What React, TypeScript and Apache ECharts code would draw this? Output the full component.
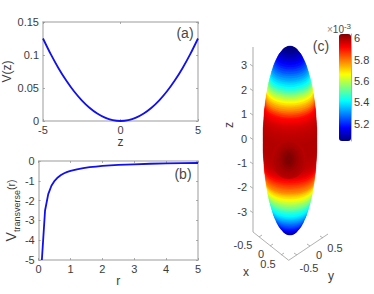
import React, { useEffect, useRef } from "react";
import * as echarts from "echarts";

const zPotential = [-5, -4.5, -4, -3.5, -3, -2.5, -2, -1.5, -1, -0.5, 0, 0.5, 1, 1.5, 2, 2.5, 3, 3.5, 4, 4.5, 5];
const vPotential = [0.125, 0.10125, 0.08, 0.06125, 0.045, 0.03125, 0.02, 0.01125, 0.005, 0.00125, 0, 0.00125, 0.005, 0.01125, 0.02, 0.03125, 0.045, 0.06125, 0.08, 0.10125, 0.125];
const rTransverse = [0.1, 0.2, 0.3, 0.4, 0.5, 0.6, 0.7, 0.8, 0.9, 1, 1.2, 1.4, 1.6, 1.8, 2, 2.5, 3, 3.5, 4, 4.5, 5];
const vTransverse = [-5, -2.5, -1.67, -1.25, -1, -0.83, -0.71, -0.62, -0.55, -0.5, -0.42, -0.36, -0.31, -0.28, -0.25, -0.2, -0.17, -0.14, -0.125, -0.11, -0.1];

const ringZ = [-3.876, -3.84, -3.8, -3.76, -3.68, -3.61, -3.53, -3.45, -3.38, -3.3, -3.22, -3.15, -3.07, -2.99, -2.92, -2.84, -2.76, -2.69, -2.61, -2.53, -2.46, -2.38, -2.3, -2.23, -2.15, -2.07, -2, -1.92, -1.84, -1.77, -1.69, -1.61, -1.54, -1.46, -1.38, -1.31, -1.23, -1.15, -1.08, -1, -0.92, -0.85, -0.77, -0.7, -0.62, -0.54, -0.46, -0.39, -0.31, -0.24, -0.16, -0.08, -0.01, 0.07, 0.15, 0.22, 0.3, 0.38, 0.45, 0.53, 0.61, 0.68, 0.76, 0.84, 0.91, 0.99, 1.07, 1.14, 1.22, 1.3, 1.37, 1.45, 1.53, 1.6, 1.68, 1.76, 1.83, 1.91, 1.99, 2.06, 2.14, 2.22, 2.29, 2.37, 2.45, 2.52, 2.6, 2.68, 2.75, 2.83, 2.91, 2.98, 3.06, 3.14, 3.21, 3.29, 3.37, 3.44, 3.52, 3.6, 3.63, 3.67, 3.71];
const ringRadius = [0.154, 0.22, 0.265, 0.31, 0.37, 0.43, 0.48, 0.52, 0.56, 0.59, 0.63, 0.66, 0.685, 0.71, 0.735, 0.76, 0.78, 0.8, 0.82, 0.84, 0.86, 0.875, 0.89, 0.91, 0.92, 0.93, 0.945, 0.96, 0.97, 0.98, 0.99, 1, 1.01, 1.02, 1.03, 1.04, 1.045, 1.05, 1.055, 1.06, 1.065, 1.07, 1.075, 1.08, 1.085, 1.09, 1.09, 1.09, 1.09, 1.09, 1.09, 1.09, 1.09, 1.09, 1.09, 1.09, 1.09, 1.09, 1.085, 1.08, 1.075, 1.07, 1.065, 1.06, 1.055, 1.05, 1.045, 1.04, 1.03, 1.02, 1.01, 1, 0.99, 0.98, 0.97, 0.96, 0.945, 0.93, 0.92, 0.91, 0.89, 0.875, 0.86, 0.84, 0.82, 0.8, 0.78, 0.76, 0.735, 0.71, 0.685, 0.66, 0.63, 0.59, 0.56, 0.52, 0.48, 0.43, 0.37, 0.31, 0.265, 0.22, 0.154];
const ringValue = [5.05, 5.07, 5.085, 5.1, 5.13, 5.16, 5.185, 5.21, 5.235, 5.26, 5.285, 5.31, 5.335, 5.36, 5.385, 5.41, 5.43, 5.45, 5.48, 5.51, 5.535, 5.56, 5.585, 5.61, 5.64, 5.67, 5.695, 5.72, 5.75, 5.78, 5.8, 5.82, 5.84, 5.86, 5.88, 5.9, 5.92, 5.94, 5.95, 5.96, 5.968, 5.975, 5.978, 5.98, 5.982, 5.985, 5.987, 5.99, 5.99, 5.99, 5.99, 5.99, 5.99, 5.99, 5.99, 5.99, 5.987, 5.985, 5.982, 5.98, 5.978, 5.975, 5.97, 5.965, 5.958, 5.95, 5.94, 5.93, 5.915, 5.9, 5.87, 5.84, 5.81, 5.78, 5.753, 5.725, 5.695, 5.665, 5.633, 5.6, 5.565, 5.53, 5.495, 5.46, 5.43, 5.4, 5.375, 5.35, 5.325, 5.3, 5.275, 5.25, 5.225, 5.2, 5.178, 5.155, 5.132, 5.11, 5.09, 5.07, 5.06, 5.05, 5.045];

const spotZ = [-0.85, -0.85, -0.85, -0.85, -0.85, -0.85, -0.85];
const spotRadiusX = [0.7, 0.6, 0.5, 0.4, 0.3, 0.22, 0.14];
const spotRadiusZ = [0.8, 0.7, 0.6, 0.5, 0.4, 0.3, 0.2];
const spotValue = [5.985, 5.995, 6, 6.01, 6.02, 6.03, 6.04];

const zTicks = [3, 2, 1, 0, -1, -2, -3];
const barTicks = [5.2, 5.4, 5.6, 5.8, 6];
const jet = ["#00007f", "#0000ff", "#007fff", "#00ffff", "#7fff7f", "#ffff00", "#ff7f00", "#ff0000", "#7f0000"];

const TEXT = "#3c3c3c";
const BOX = "#bdbdbd";
const FONT = "'Liberation Sans', Arial, sans-serif";

const labelStyle = { color: TEXT, fontSize: 11, fontFamily: FONT };
const nameStyle = { color: TEXT, fontSize: 12, fontFamily: FONT };

function frameAxis(gridIndex: number, position: string, min: number, max: number, interval: number) {
  return {
    type: "value", gridIndex, position, min, max, interval,
    axisLine: { show: true, onZero: false, lineStyle: { color: BOX, width: 1.5 } },
    axisTick: { show: true, inside: true, length: 2, lineStyle: { color: "#8c8c8c", width: 0.7 } },
    axisLabel: { show: false },
    splitLine: { show: false },
  };
}

function mainAxis(gridIndex: number, position: string, min: number, max: number, interval: number, margin: number, extra: object) {
  const base = frameAxis(gridIndex, position, min, max, interval);
  return { ...base, axisLabel: { ...labelStyle, show: true, margin, hideOverlap: false, showMinLabel: true, showMaxLabel: true }, ...extra };
}

function ringItem(_: any, api: any) {
  const c = api.coord([api.value(0), api.value(1)]);
  const rx = api.size([api.value(3), 0])[0];
  const ry = api.size([0, api.value(4)])[1];
  return { type: "ellipse", shape: { cx: c[0], cy: c[1], rx, ry }, style: { fill: api.visual("color"), stroke: api.visual("color"), lineWidth: 0.3 } };
}

const line = (x1: number, y1: number, x2: number, y2: number, color = "#a8a8a8", lineWidth = 0.9) => ({
  type: "line", silent: true, shape: { x1, y1, x2, y2 }, style: { stroke: color, lineWidth },
});
const text = (x: number, y: number, t: string, fontSize = 11, color = TEXT, rotation = 0) => ({
  type: "text", x, y, rotation, silent: true,
  style: { text: t, fill: color, fontSize, fontFamily: FONT, align: "center", verticalAlign: "middle" },
});

export default function App() {
  const ref = useRef<HTMLDivElement>(null);
  useEffect(() => {
    document.body.style.margin = "0";
    const chart = echarts.init(ref.current!, undefined, { renderer: "svg" });
    const rings = ringZ.map((z, i) => [0, z, ringValue[i], ringRadius[i], ringRadius[i] * 0.5 * (24.67 / 24.4)]);
    const spots = spotZ.map((z, i) => [-0.05, z, spotValue[i], spotRadiusX[i], spotRadiusZ[i]]);
    const zTickMarks = zTicks.map((z) => {
      const y = 138.5 - z * 24.4;
      return line(253, y + 1, 250, y - 1);
    });
    chart.setOption({
      animation: false,
      backgroundColor: "#ffffff",
      grid: [
        { left: 38, top: 22, width: 160, height: 99 },
        { left: 38, top: 161, width: 160, height: 99 },
        { left: 253, top: 40.9, width: 74, height: 195.2 },
        { left: 339, top: 34, width: 12, height: 107 },
      ],
      xAxis: [
        mainAxis(0, "bottom", -5, 5, 5, 3, { name: "z", nameLocation: "middle", nameGap: 15, nameTextStyle: nameStyle }),
        frameAxis(0, "top", -5, 5, 5),
        mainAxis(1, "bottom", 0, 5, 1, 3, { name: "r", nameLocation: "middle", nameGap: 15, nameTextStyle: nameStyle }),
        frameAxis(1, "top", 0, 5, 1),
        { type: "value", gridIndex: 2, min: -1.5, max: 1.5, show: false },
        { type: "value", gridIndex: 3, min: 0, max: 1, show: false },
      ],
      yAxis: [
        mainAxis(0, "left", 0, 0.15, 0.05, 4, { name: "V(z)", nameLocation: "middle", nameGap: 30, nameTextStyle: nameStyle }),
        frameAxis(0, "right", 0, 0.15, 0.05),
        mainAxis(1, "left", -5, 0, 1, 4, {
          name: "{v|V}{s|transverse}{r|(r)}", nameLocation: "middle", nameGap: 14,
          nameTextStyle: {
            color: TEXT, fontFamily: FONT, lineHeight: 20,
            rich: {
              v: { fontSize: 14, color: TEXT, fontFamily: FONT, verticalAlign: "middle", lineHeight: 20 },
              s: { fontSize: 9, color: TEXT, fontFamily: FONT, verticalAlign: "bottom", lineHeight: 12 },
              r: { fontSize: 10.5, color: TEXT, fontFamily: FONT, verticalAlign: "middle", lineHeight: 14 },
            },
          },
        }),
        frameAxis(1, "right", -5, 0, 1),
        {
          type: "value", gridIndex: 2, min: -4, max: 4, interval: 1, position: "left",
          axisLine: { show: false }, axisTick: { show: false }, splitLine: { show: false },
          axisLabel: { ...labelStyle, margin: 6, padding: [0, 0, 9, 0], showMinLabel: false, showMaxLabel: false },
        },
        {
          type: "value", gridIndex: 3, min: 5.04, max: 6.04, position: "right",
          axisLine: { show: true, onZero: false, lineStyle: { color: "#9a9a9a", width: 0.8 } },
          axisTick: { show: false }, splitLine: { show: false },
          axisLabel: { ...labelStyle, margin: 3, customValues: barTicks, formatter: (v: number) => String(v) },
        },
      ],
      visualMap: {
        type: "continuous", show: true, min: 5.04, max: 6.04, dimension: 2, seriesIndex: [2, 3],
        left: 339, top: 34, itemWidth: 12, itemHeight: 107, padding: 0, calculable: false, hoverLink: false,
        text: ["", ""], textGap: 0, showLabel: false, inRange: { color: jet },
      },
      series: [
        { type: "line", xAxisIndex: 0, yAxisIndex: 0, data: zPotential.map((z, i) => [z, vPotential[i]]), smooth: 0.3, showSymbol: false, lineStyle: { color: "#1010f0", width: 1.8 } },
        { type: "line", xAxisIndex: 2, yAxisIndex: 2, data: rTransverse.map((r, i) => [r, vTransverse[i]]), showSymbol: false, lineStyle: { color: "#1010f0", width: 1.8 } },
        { type: "custom", xAxisIndex: 4, yAxisIndex: 4, coordinateSystem: "cartesian2d", clip: false, silent: true, renderItem: ringItem, data: rings, encode: { x: 0, y: 1 } },
        { type: "custom", xAxisIndex: 4, yAxisIndex: 4, coordinateSystem: "cartesian2d", clip: false, silent: true, renderItem: ringItem, data: spots, encode: { x: 0, y: 1 } },
      ],
      graphic: [
        text(185, 33, "(a)", 14, "#484848"),
        text(183, 174, "(b)", 14, "#484848"),
        text(321, 46, "(c)", 14, "#484848"),
        {
          type: "text", x: 327, y: 29, silent: true,
          style: {
            text: "{a|×}{b|10}{c|-3}", fontFamily: FONT, verticalAlign: "middle",
            rich: {
              a: { fontSize: 10, fill: "#8a8a8a", fontFamily: FONT },
              b: { fontSize: 10, fill: "#4a4a4a", fontFamily: FONT },
              c: { fontSize: 8, fill: "#4a4a4a", fontFamily: FONT, verticalAlign: "top", lineHeight: 14 },
            },
          },
        },
        line(253, 47, 253, 232, "#b8b8b8", 1.2),
        line(253, 232, 288.7, 260.3),
        line(288.7, 260.3, 328, 234),
        ...zTickMarks,
        line(259, 237, 262, 235),
        line(270, 246, 273, 244),
        line(281, 255, 284, 253),
        line(297, 255, 294, 253),
        line(310, 246, 307, 244),
        line(323, 238, 320, 236),
        text(243, 245, "-0.5"),
        text(261, 254, "0"),
        text(268, 264, "0.5"),
        text(309, 268, "-0.5"),
        text(319, 255, "0"),
        text(335, 248, "0.5"),
        text(246, 272, "x", 12),
        text(331, 276, "y", 12),
        text(229, 125, "z", 12, TEXT, Math.PI / 2),
      ],
    });
    return () => chart.dispose();
  }, []);
  return <div ref={ref} style={{ position: "absolute", left: 0, top: 0, width: 374, height: 294 }} />;
}
